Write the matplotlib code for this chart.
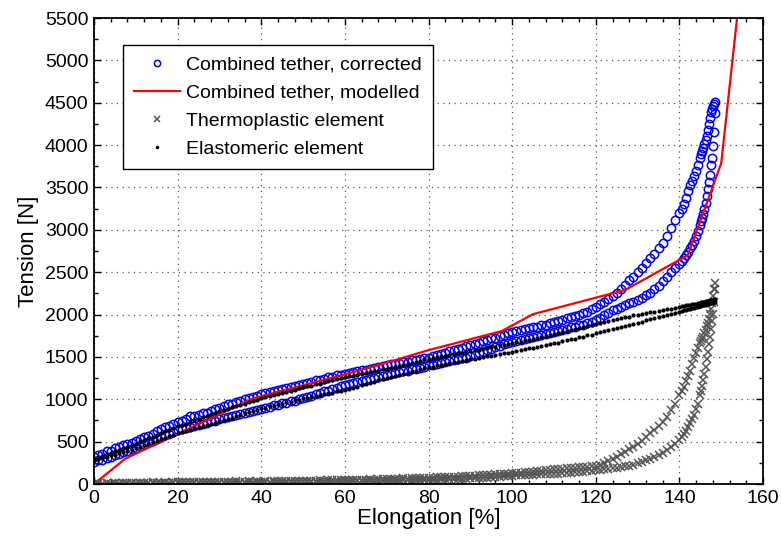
import matplotlib
matplotlib.use("Agg")
import matplotlib.pyplot as plt
from matplotlib.ticker import MultipleLocator

plt.rcParams['font.family'] = ['Liberation Sans', 'DejaVu Sans']

# elongation [%] at which the samples were taken (same for loading and unloading)
elongation = [
    0, 1, 2, 3, 4, 5, 6, 7, 8, 9, 10,
    11, 12, 13, 14, 15, 16, 17, 18, 19, 20,
    21, 22, 23, 24, 25, 26, 27, 28, 29, 30,
    31, 32, 33, 34, 35, 36, 37, 38, 39, 40,
    41, 42, 43, 44, 45, 46, 47, 48, 49, 50,
    51, 52, 53, 54, 55, 56, 57, 58, 59, 60,
    61, 62, 63, 64, 65, 66, 67, 68, 69, 70,
    71, 72, 73, 74, 75, 76, 77, 78, 79, 80,
    81, 82, 83, 84, 85, 86, 87, 88, 89, 90,
    91, 92, 93, 94, 95, 96, 97, 98, 99, 100,
    101, 102, 103, 104, 105, 106, 107, 108, 109, 110,
    111, 112, 113, 114, 115, 116, 117, 118, 119, 120,
    121, 122, 123, 124, 125, 126, 127, 128, 129, 130,
    131, 132, 133, 134, 135, 136, 137, 138, 139, 140,
    140.5, 141, 141.5, 142, 142.5, 143, 143.5, 144, 144.5, 145,
    145.25, 145.5, 145.75, 146, 146.25, 146.5, 146.75, 147, 147.25, 147.5,
    147.75, 148, 148.25, 148.5,
]

# combined tether, corrected [N]
combined_load = [
    320, 345, 358, 385, 395, 420, 432, 455, 478, 490, 510,
    528, 555, 572, 592, 620, 648, 672, 688, 712, 735,
    748, 772, 800, 805, 818, 838, 842, 865, 884, 900,
    925, 948, 950, 972, 985, 998, 1018, 1030, 1042, 1060,
    1078, 1085, 1098, 1112, 1120, 1138, 1150, 1158, 1172, 1180,
    1197, 1205, 1222, 1228, 1240, 1258, 1262, 1282, 1290, 1300,
    1312, 1318, 1332, 1340, 1348, 1362, 1370, 1378, 1392, 1400,
    1412, 1418, 1428, 1435, 1442, 1458, 1460, 1472, 1482, 1490,
    1508, 1518, 1538, 1548, 1568, 1578, 1598, 1608, 1628, 1640,
    1658, 1668, 1688, 1698, 1718, 1728, 1748, 1758, 1778, 1790,
    1802, 1812, 1828, 1838, 1852, 1858, 1872, 1882, 1898, 1910,
    1928, 1938, 1958, 1968, 1988, 1998, 2018, 2035, 2062, 2090,
    2120, 2152, 2180, 2222, 2258, 2302, 2348, 2402, 2448, 2500,
    2552, 2608, 2672, 2718, 2782, 2848, 2932, 3018, 3112, 3200,
    3250, 3310, 3380, 3460, 3530, 3580, 3640, 3700, 3770, 3850,
    3890, 3930, 3970, 4010, 4060, 4110, 4180, 4250, 4320, 4390,
    4430, 4460, 4490, 4510,
]
combined_unload = [
    260, 278, 288, 308, 318, 342, 352, 378, 392, 412, 428,
    452, 468, 492, 508, 532, 552, 578, 592, 618, 637,
    648, 662, 672, 688, 698, 712, 722, 738, 748, 762,
    778, 788, 802, 810, 828, 835, 852, 860, 878, 885,
    902, 910, 928, 935, 952, 960, 978, 985, 1002, 1012,
    1032, 1042, 1062, 1072, 1092, 1102, 1122, 1132, 1152, 1168,
    1178, 1192, 1202, 1218, 1222, 1242, 1248, 1262, 1272, 1288,
    1298, 1312, 1318, 1332, 1338, 1352, 1358, 1372, 1382, 1400,
    1408, 1422, 1428, 1442, 1448, 1462, 1472, 1488, 1492, 1510,
    1528, 1548, 1562, 1582, 1598, 1618, 1628, 1652, 1662, 1680,
    1688, 1702, 1712, 1728, 1732, 1752, 1758, 1772, 1778, 1795,
    1802, 1820, 1828, 1848, 1858, 1872, 1882, 1902, 1912, 1935,
    1965, 1995, 2018, 2048, 2068, 2092, 2108, 2132, 2148, 2170,
    2198, 2232, 2258, 2302, 2338, 2392, 2438, 2502, 2548, 2600,
    2630, 2665, 2700, 2740, 2780, 2820, 2870, 2930, 2990, 3060,
    3100, 3140, 3190, 3250, 3320, 3400, 3480, 3560, 3650, 3760,
    3850, 3990, 4150, 4380,
]

# elastomeric element [N]
elasto_load = [
    300, 318, 332, 352, 368, 392, 402, 428, 442, 462, 478,
    502, 518, 542, 558, 582, 598, 622, 638, 662, 680,
    700, 714, 736, 750, 772, 786, 808, 822, 844, 860,
    877, 888, 907, 918, 937, 948, 967, 978, 997, 1010,
    1025, 1034, 1051, 1060, 1077, 1086, 1103, 1112, 1129, 1140,
    1154, 1162, 1178, 1186, 1202, 1210, 1226, 1234, 1250, 1260,
    1272, 1278, 1292, 1298, 1312, 1318, 1332, 1338, 1352, 1360,
    1374, 1382, 1398, 1406, 1422, 1430, 1446, 1454, 1470, 1480,
    1491, 1496, 1509, 1514, 1527, 1532, 1545, 1550, 1563, 1570,
    1581, 1586, 1599, 1604, 1617, 1622, 1635, 1640, 1653, 1660,
    1673, 1680, 1695, 1702, 1717, 1724, 1739, 1746, 1761, 1770,
    1784, 1792, 1808, 1816, 1832, 1840, 1856, 1864, 1880, 1890,
    1903, 1910, 1925, 1932, 1947, 1954, 1969, 1976, 1991, 2000,
    2011, 2016, 2029, 2034, 2047, 2052, 2065, 2070, 2083, 2090,
    2097, 2100, 2107, 2110, 2117, 2120, 2127, 2130, 2137, 2140,
    2145, 2146, 2151, 2152, 2157, 2158, 2163, 2164, 2169, 2170,
    2175, 2176, 2180, 2182,
]
elasto_unload = [
    280, 292, 310, 320, 338, 348, 366, 376, 394, 404, 420,
    436, 458, 472, 494, 508, 530, 544, 566, 580, 600,
    612, 630, 640, 658, 668, 686, 696, 714, 724, 740,
    753, 772, 784, 803, 814, 834, 845, 864, 876, 893,
    903, 919, 926, 942, 950, 965, 973, 989, 996, 1010,
    1018, 1032, 1038, 1052, 1058, 1072, 1078, 1092, 1098, 1109,
    1121, 1139, 1149, 1167, 1177, 1195, 1205, 1223, 1234, 1250,
    1261, 1278, 1287, 1304, 1313, 1330, 1339, 1356, 1365, 1380,
    1387, 1400, 1405, 1418, 1423, 1436, 1441, 1454, 1459, 1470,
    1477, 1490, 1495, 1508, 1513, 1526, 1531, 1544, 1550, 1561,
    1569, 1583, 1589, 1603, 1609, 1623, 1629, 1643, 1649, 1660,
    1670, 1686, 1694, 1709, 1717, 1733, 1741, 1756, 1764, 1778,
    1789, 1806, 1814, 1831, 1840, 1856, 1865, 1882, 1890, 1905,
    1916, 1933, 1942, 1959, 1968, 1985, 1994, 2011, 2020, 2035,
    2040, 2050, 2053, 2063, 2066, 2076, 2079, 2089, 2092, 2100,
    2102, 2110, 2110, 2118, 2117, 2125, 2125, 2133, 2133, 2140,
    2140, 2148, 2146, 2150,
]

# thermoplastic element [N]
thermo_load = [
    5, 8, 4, 10, 6, 12, 8, 10, 14, 9, 12,
    15, 10, 14, 18, 12, 16, 20, 15, 18, 22,
    18, 22, 20, 25, 19, 24, 22, 27, 21, 25,
    28, 23, 27, 30, 24, 29, 32, 26, 30, 28,
    33, 29, 35, 31, 36, 32, 38, 34, 37, 40,
    36, 41, 38, 43, 39, 45, 42, 47, 44, 48,
    46, 51, 48, 53, 50, 56, 53, 58, 56, 60,
    58, 63, 61, 66, 64, 70, 68, 73, 72, 76,
    75, 80, 79, 84, 83, 88, 88, 93, 94, 98,
    99, 103, 104, 108, 110, 113, 116, 119, 122, 125,
    129, 133, 137, 141, 146, 150, 155, 160, 166, 172,
    176, 180, 184, 188, 192, 196, 200, 204, 207, 210,
    230, 250, 270, 295, 320, 350, 380, 410, 440, 475,
    510, 555, 600, 640, 685, 735, 794, 870, 950, 1050,
    1100, 1150, 1210, 1270, 1335, 1420, 1490, 1550, 1610, 1660,
    1690, 1715, 1740, 1780, 1820, 1860, 1905, 1950, 2010, 2070,
    2140, 2220, 2300, 2370,
]
thermo_unload = [
    3, 6, 2, 8, 4, 7, 3, 9, 5, 8, 6,
    9, 5, 10, 7, 11, 6, 12, 8, 10, 9,
    12, 8, 13, 10, 14, 9, 15, 11, 13, 12,
    15, 11, 16, 13, 17, 12, 18, 14, 16, 15,
    18, 14, 19, 16, 20, 17, 22, 18, 21, 20,
    23, 19, 25, 21, 26, 23, 28, 25, 29, 30,
    29, 32, 30, 34, 32, 36, 35, 38, 37, 40,
    39, 42, 41, 44, 43, 46, 46, 48, 49, 50,
    52, 53, 55, 56, 58, 60, 61, 63, 65, 66,
    68, 71, 73, 76, 79, 82, 86, 90, 95, 100,
    103, 105, 108, 110, 112, 113, 115, 116, 118, 120,
    123, 126, 129, 132, 136, 140, 144, 148, 153, 160,
    166, 172, 178, 184, 190, 198, 208, 218, 230, 245,
    262, 280, 300, 322, 345, 370, 400, 435, 475, 525,
    555, 590, 630, 670, 715, 765, 820, 880, 950, 1050,
    1100, 1160, 1230, 1300, 1380, 1470, 1560, 1650, 1740, 1830,
    1920, 2010, 2150, 2300,
]

# combined tether, modelled [N]
model_elong = [0, 7.5, 38, 59, 68, 80, 97.5, 105, 127, 142, 150, 156]
model_tension = [0, 300, 1010, 1280, 1404, 1580, 1805, 2005, 2290, 2700, 3785, 6500]

# full cycle: loading then unloading
cycle_x = elongation + elongation[::-1]
combined = combined_load + combined_unload[::-1]
thermo = thermo_load + thermo_unload[::-1]
elasto = elasto_load + elasto_unload[::-1]

fig = plt.figure(figsize=(7.81, 5.39), dpi=100)
ax = fig.add_axes([0.1204, 0.102, 0.8566, 0.8646])

ax.plot(cycle_x, combined, 'o', mfc='none', mec='#0000ff', ms=6, mew=1.1,
        label='Combined tether, corrected')
ax.plot(model_elong, model_tension, '-', color='#ff0000', lw=1.6,
        label='Combined tether, modelled')
ax.plot(cycle_x, thermo, 'x', color='#555555', ms=5.5, mew=1.1,
        label='Thermoplastic element')
ax.plot(cycle_x, elasto, '.', color='black', ms=4,
        label='Elastomeric element')

ax.set_xlim(0, 160)
ax.set_ylim(0, 5500)
ax.xaxis.set_major_locator(MultipleLocator(20))
ax.xaxis.set_minor_locator(MultipleLocator(4))
ax.yaxis.set_major_locator(MultipleLocator(500))
ax.yaxis.set_minor_locator(MultipleLocator(250))
ax.tick_params(which='both', direction='in', top=True, right=True,
               labelsize=14, width=1)
ax.tick_params(which='major', length=5, pad=4)
ax.tick_params(which='minor', length=3)
ax.grid(True, which='major', linestyle=(0, (1, 3.5)), color='0.35', linewidth=0.9)
ax.set_axisbelow(True)
for s in ax.spines.values():
    s.set_linewidth(1.3)

ax.set_xlabel('Elongation [%]', fontsize=16, labelpad=1)
ax.set_ylabel('Tension [N]', fontsize=16, labelpad=4)

leg = ax.legend(loc='upper left', bbox_to_anchor=(0.0434, 0.942),
                borderaxespad=0, fontsize=14, fancybox=False, framealpha=1,
                edgecolor='black', handlelength=2.4, handletextpad=0.3,
                markerscale=0.75, borderpad=0.55, labelspacing=0.55)
leg.get_frame().set_linewidth(1.0)

fig.savefig('out.png', dpi=100)
